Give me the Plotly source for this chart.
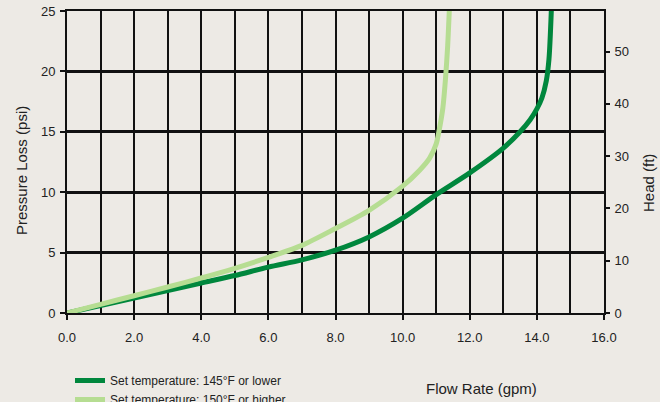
import plotly.graph_objects as go

# Data
flow_145 = [0, 1, 2, 3, 4, 5, 6, 7, 8, 9, 10, 11, 12, 13, 13.5, 13.8, 14.0, 14.15, 14.28, 14.36, 14.43]
psi_145 = [0, 0.62, 1.24, 1.86, 2.48, 3.1, 3.8, 4.4, 5.2, 6.3, 7.85, 9.8, 11.6, 13.65, 15, 16.0, 16.9, 17.8, 19.2, 21, 25]

flow_150 = [0, 1, 2, 3, 4, 5, 6, 7, 8, 9, 10, 10.5, 10.8, 11.0, 11.1, 11.2, 11.28, 11.34, 11.39]
psi_150 = [0, 0.72, 1.43, 2.15, 2.9, 3.7, 4.6, 5.6, 7.0, 8.5, 10.5, 11.8, 12.8, 14.0, 15.3, 17.0, 19.5, 22, 25]

series_names = ["Set temperature: 145°F or lower", "Set temperature: 150°F or higher"]
x_ticks = [0, 2, 4, 6, 8, 10, 12, 14, 16]
x_tick_labels = ["0.0", "2.0", "4.0", "6.0", "8.0", "10.0", "12.0", "14.0", "16.0"]
psi_range = [0, 25]
x_range = [0, 16]
ft_per_psi = 2.31

BG = "#EDEAE5"
DARK = "#00873D"
LIGHT = "#B6DD92"
FONT = "Liberation Sans"
INK = "#111"

W, H = 660, 402
ML, MR, MT, MB = 67, 56, 11, 89
PW, PH = W - ML - MR, H - MT - MB


def px_x(x):
    return (x - ML) / PW


def px_y(y):
    return (H - MB - y) / PH


fig = go.Figure()
fig.add_trace(go.Scatter(x=flow_145, y=psi_145, mode="lines", name=series_names[0],
                         line=dict(color=DARK, width=5, shape="spline", smoothing=0.8)))
fig.add_trace(go.Scatter(x=flow_150, y=psi_150, mode="lines", name=series_names[1],
                         line=dict(color=LIGHT, width=5, shape="spline", smoothing=0.8)))
# invisible trace to anchor the head axis
fig.add_trace(go.Scatter(x=[x_range[0]], y=[0], yaxis="y2", mode="lines",
                         showlegend=False, hoverinfo="skip", line=dict(width=0)))

axis_common = dict(ticks="outside", ticklen=5, tickwidth=1.5, tickcolor=INK,
                   zeroline=False, automargin=False, tickfont=dict(size=13, color="#222"))

fig.update_layout(
    width=W, height=H,
    paper_bgcolor=BG, plot_bgcolor=BG,
    margin=dict(l=ML, r=MR, t=MT, b=MB, autoexpand=False),
    font=dict(family=FONT, size=13, color="#222"),
    xaxis=dict(range=x_range, tickvals=x_ticks, ticktext=x_tick_labels,
               showgrid=True, gridcolor=INK, gridwidth=1.5,
               minor=dict(dtick=1, showgrid=True, gridcolor=INK, gridwidth=1.5),
               showline=True, linecolor=INK, linewidth=2, mirror=True,
               ticklabelstandoff=6, **axis_common),
    yaxis=dict(range=psi_range, dtick=5, showgrid=True, gridcolor=INK, gridwidth=2.5,
               showline=True, linecolor=INK, linewidth=2, mirror=True,
               ticklabelstandoff=2, **axis_common),
    yaxis2=dict(range=[psi_range[0] * ft_per_psi, psi_range[1] * ft_per_psi], dtick=10,
                overlaying="y", side="right", showgrid=False, showline=False,
                ticklabelstandoff=2, **axis_common),
    legend=dict(x=px_x(70), y=px_y(366), xref="paper", yref="paper",
                xanchor="left", yanchor="top",
                orientation="v", bgcolor="rgba(0,0,0,0)", font=dict(size=12, color="#222"),
                tracegroupgap=0, itemwidth=30),
    showlegend=True,
    annotations=[
        dict(text="Pressure Loss (psi)", x=px_x(21), y=px_y(170), xref="paper", yref="paper",
             xanchor="center", yanchor="middle", textangle=-90, showarrow=False,
             font=dict(size=15)),
        dict(text="Flow Rate (gpm)", x=px_x(481), y=px_y(388), xref="paper", yref="paper",
             xanchor="center", yanchor="middle", showarrow=False, font=dict(size=15)),
        dict(text="Head (ft)", x=px_x(648), y=px_y(183), xref="paper", yref="paper",
             xanchor="center", yanchor="middle", textangle=-90, showarrow=False,
             font=dict(size=15)),
    ],
)

fig.write_html("out.html", config={"displayModeBar": False},
               post_script="document.body.style.margin='0';document.body.style.overflow='hidden';")
